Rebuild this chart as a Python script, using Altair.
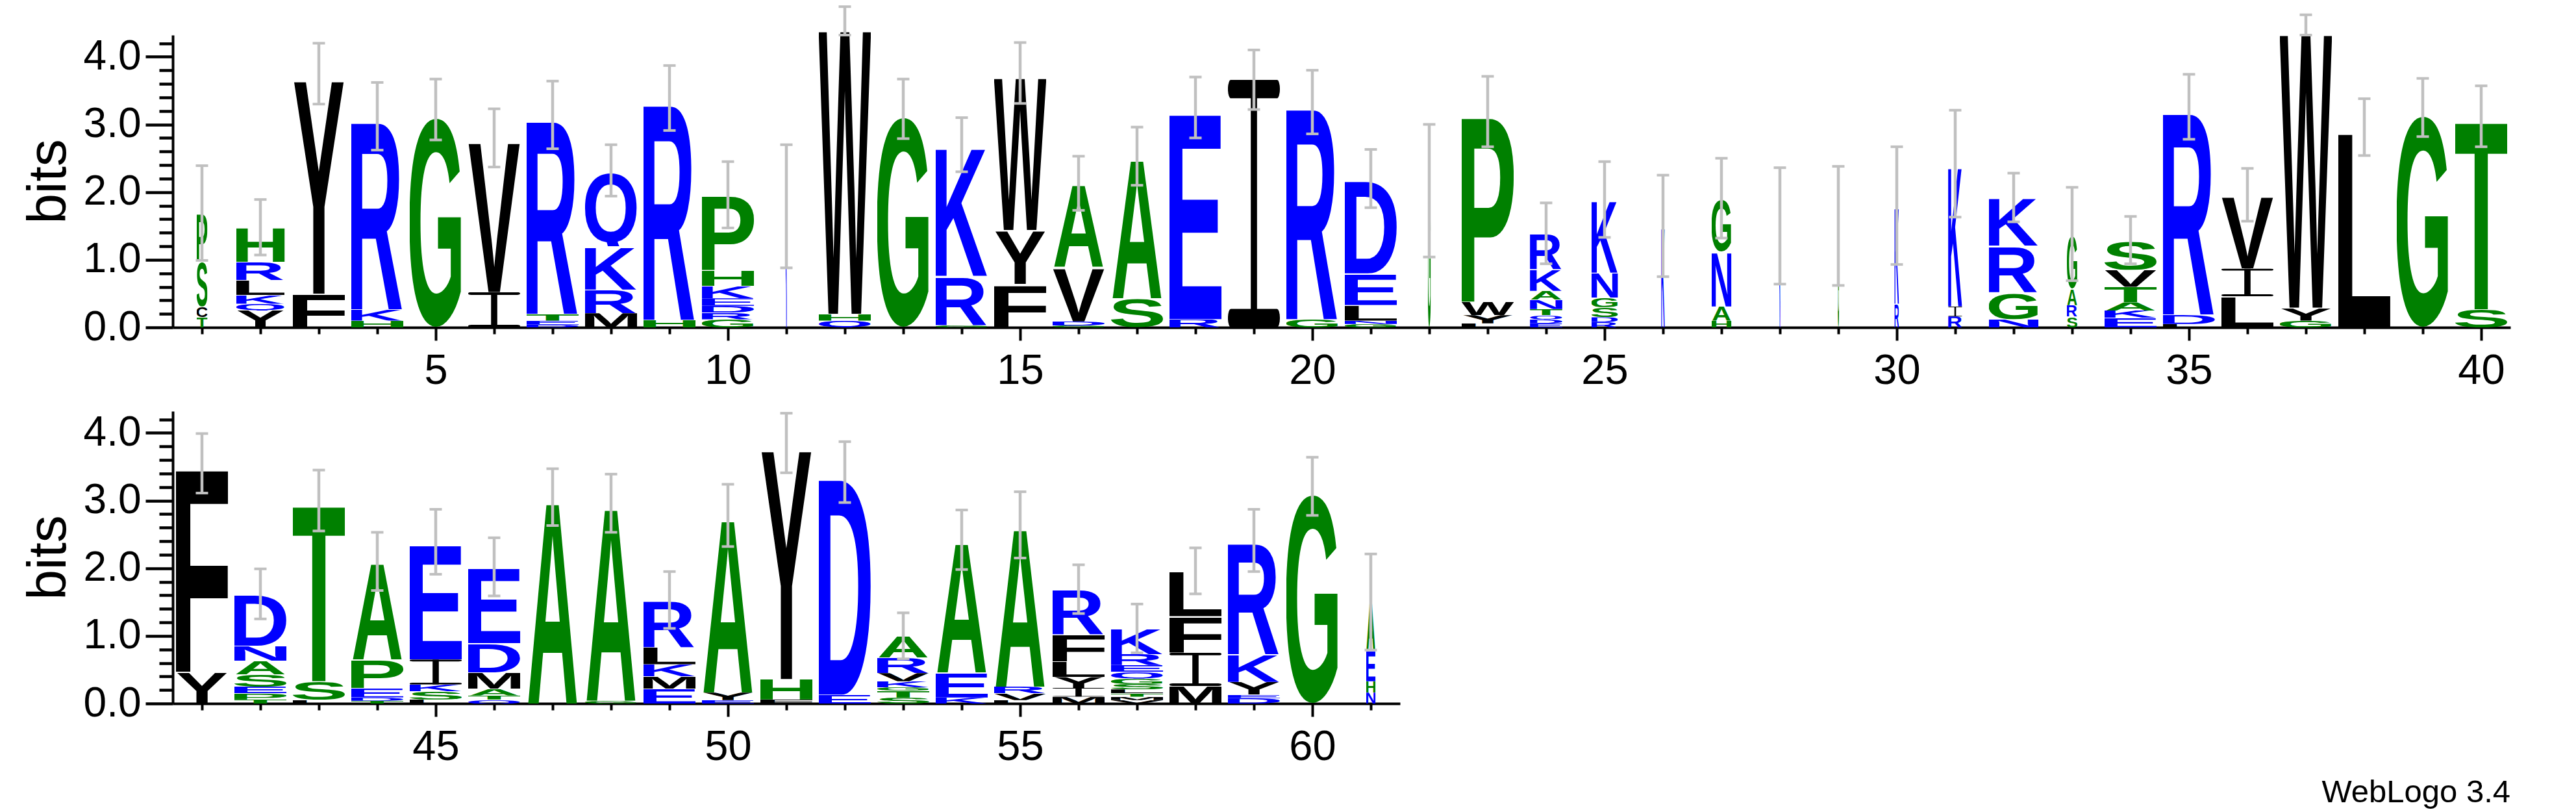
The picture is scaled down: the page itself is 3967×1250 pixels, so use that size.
import altair as alt
import pandas as pd
from urllib.parse import quote

# ---------------- data ----------------
positions = list(range(1, 62))

# letters of each column, bottom -> top
stack_letters = [
    "TCSP", "YQKLRH", "FY", "HKR", "G", "IV", "DETR", "MRKQ", "HR", "GRDEKHP",
    "K", "QHW", "G", "GRK", "FYW", "GDVA", "SA", "RE", "I", "GR",
    "GNLED", "G", "LYWP", "EDQTNAKR", "RDSGNK", "K", "HANG", "K", "G", "RK",
    "RIK", "NGRK", "SRAG", "EKATVS", "LDR", "LIV", "GYW", "L", "G", "ST",
    "YF", "TPESAND", "LST", "TDEPA", "LSKIE", "QTAMDE", "A", "GA", "EMKLR", "EYA",
    "FHY", "ED", "STGKVRA", "KEA", "LVRA", "MIYLFR", "VMTLSGQERK", "MIFL", "DEYKR", "G",
    "NHEA",
]
# information (bits) of each letter, bottom -> top
stack_bits = [
    [.15, .16, .68, .70], [.25, .10, .13, .22, .27, .51], [.50, 3.25], [.10, .17, 2.85], [3.22],
    [.52, 2.28], [.04, .06, .10, 2.94], [.21, .35, .64, 1.12], [.11, 3.28],
    [.12, .10, .10, .11, .18, .23, 1.12],
    [1.79], [.10, .10, 4.33], [3.23], [.03, .73, 1.94], [.64, .80, 2.32],
    [.03, .06, .80, 1.24], [.43, 2.10], [.12, 3.13], [3.66], [.12, 3.21],
    [.05, .05, .23, .47, 1.40], [2.02], [.06, .12, .20, 2.81],
    [.06, .06, .06, .09, .14, .13, .32, .53], [.08, .07, .15, .14, .37, 1.08],
    [1.50], [.10, .21, .81, .79], [1.50], [1.50], [.35, 1.45],
    [.16, .15, 2.11], [.12, .40, .69, .71], [.16, .17, .24, .81],
    [.14, .11, .12, .23, .25, .44], [.05, .14, 3.07], [.46, .41, 1.09],
    [.10, .19, 4.18], [2.96], [3.25], [.27, 2.85],
    [.47, 3.08], [.06, .09, .10, .18, .20, .22, .77], [.05, .28, 2.67],
    [.04, .05, .14, .42, 1.45], [.06, .12, .10, .37, 1.74], [.06, .06, .10, .24, .43, 1.13],
    [3.05], [.04, 2.92], [.22, .18, .18, .25, .70], [.05, .11, 2.62],
    [.06, .30, 3.49], [.13, 3.29], [.09, .10, .05, .09, .12, .23, .32], [.09, .37, 1.96],
    [.05, .10, .10, 2.39], [.10, .13, .16, .23, .40, .67],
    [.05, .05, .05, .06, .08, .08, .10, .10, .16, .38], [.26, .49, .54, .67],
    [.08, .05, .19, .41, 1.68], [3.21],
    [.16, .17, .46, .71],
]
# fraction of sequences with a residue (stack width)
occupancy = [
    .21, .93, 1, 1, 1, 1, 1, 1, 1, 1,
    .03, 1, 1, 1, 1, 1, 1, 1, 1, 1,
    1, .06, 1, .62, .51, .07, .38, .03, .03, .09,
    .27, .95, .20, 1, 1, 1, 1, 1, 1, 1,
    1, 1, 1, 1, 1, 1, 1, 1, 1, 1,
    1, 1, 1, 1, 1, 1, 1, 1, 1, 1,
    .18,
]
# half length of the error bar (bits)
error_half = [
    .70, .41, .45, .50, .45, .43, .50, .38, .48, .49,
    .91, .21, .44, .40, .45, .40, .43, .45, .44, .47,
    .43, .98, .52, .45, .56, .75, .59, .86, .88, .87,
    .79, .36, .69, .35, .48, .39, .15, .42, .43, .45,
    .44, .37, .45, .43, .48, .43, .42, .43, .42, .46,
    .44, .45, .34, .44, .49, .36, .36, .34, .46, .43,
    .71,
]
credit = ["WebLogo 3.4"]
y_ticks = [round(i * 0.2, 1) for i in range(22)]

# ---------------- styles ----------------
GREEN, BLUE, BLACK = "#008000", "#0000ff", "#000000"
COLORS = {}
for c in "GSTAPH":
    COLORS[c] = GREEN
for c in "NQKRDE":
    COLORS[c] = BLUE
for c in "FILMVWYC":
    COLORS[c] = BLACK

# ink insets (% of advance) of Arial-like bold capitals
INSET = {
    "A": (0.3, 0.3), "C": (6, 5.5), "D": (10.5, 5.5), "E": (11.4, 7.5), "F": (12.4, 7.5),
    "G": (5.7, 6.4), "H": (10.1, 10.1), "K": (10.5, 0), "L": (12.4, 4.9), "M": (8.4, 8.4),
    "N": (10.1, 10.1), "P": (11.4, 5.2), "Q": (5.4, 4.5), "R": (10.5, 0.3), "S": (4.8, 5.7),
    "T": (3.6, 3.6), "V": (0, 0), "W": (0.4, 0.4), "Y": (0, 0),
}
ROUND = set("CGQSO")


def glyph_url(letter, color):
    if letter == "I":
        svg = (
            '<svg xmlns="http://www.w3.org/2000/svg" width="100" height="100" '
            'viewBox="0 0 100 100" preserveAspectRatio="none">'
            f'<rect x="0" y="0" width="100" height="7.5" rx="6" fill="{color}"/>'
            f'<rect x="44" y="0" width="12" height="100" fill="{color}"/>'
            f'<rect x="0" y="92.5" width="100" height="7.5" rx="6" fill="{color}"/>'
            "</svg>"
        )
    else:
        l, r = INSET.get(letter, (4, 4))
        top = 73.0 if letter in ROUND else 71.6
        bottom = 1.2 if letter in ROUND else 0.0
        if letter == "Q":
            bottom = 5.0
        w = 100 - l - r
        h = top + bottom
        svg = (
            f'<svg xmlns="http://www.w3.org/2000/svg" width="{w:.1f}" height="{h:.1f}" '
            f'viewBox="{l} {-top} {w:.2f} {h:.2f}" preserveAspectRatio="none">'
            f'<text x="0" y="0" font-family="Liberation Sans" font-weight="bold" '
            f'font-size="100" textLength="100" lengthAdjust="spacingAndGlyphs" '
            f'fill="{color}">{letter}</text></svg>'
        )
    return "data:image/svg+xml;charset=utf-8," + quote(svg)


HALF = 0.445  # half of the letter box width, in columns

letter_rows, err_rows = [], []
for p, letters, bits, occ, e in zip(positions, stack_letters, stack_bits, occupancy, error_half):
    base = 0.0
    for L, b in zip(letters, bits):
        letter_rows.append(dict(pos=p, letter=L, xa=p - occ * HALF, xb=p + occ * HALF,
                                ya=base, yb=base + b, url=glyph_url(L, COLORS[L])))
        base += b
    err_rows.append(dict(pos=p, xa=p, ya=base - e, yb=base + e))

letters_df = pd.DataFrame(letter_rows)
err_df = pd.DataFrame(err_rows)

STEP = 90
FONT = "Liberation Sans"
YMAX = 4.32
ERR_COLOR = "#c0c0c0"

y_axis = alt.Axis(
    values=y_ticks,
    labelExpr="abs(datum.value - round(datum.value)) < 0.01 ? format(datum.value, '.1f') : ''",
    tickSize={"condition": {"test": "abs(datum.value - round(datum.value)) < 0.01", "value": 42}, "value": 21},
    title="bits", titleFont=FONT, titleFontSize=84, titleFontWeight="normal", titleColor="black",
    titlePadding=10, grid=False, domainColor="black", domainWidth=4, tickColor="black",
    tickWidth=4.5, labelFont=FONT, labelFontSize=64, labelColor="black", labelPadding=7,
    labelOverlap=False, labelFlush=False,
)


def make_row(lo, hi, with_credit=False):
    ld = letters_df[(letters_df.pos >= lo) & (letters_df.pos <= hi)]
    ed = err_df[(err_df.pos >= lo) & (err_df.pos <= hi)]
    n = hi - lo + 1
    x_axis = alt.Axis(
        values=list(range(lo, hi + 1)),
        labelExpr="datum.value % 5 === 0 ? datum.value : ''",
        tickSize={"condition": {"test": "datum.value % 5 === 0", "value": 20}, "value": 10},
        title=None, grid=False, domainColor="black", domainWidth=4, tickColor="black",
        tickWidth=4, labelFont=FONT, labelFontSize=65, labelColor="black", labelPadding=15,
        labelOverlap=False, labelFlush=False,
    )
    xs = alt.Scale(domain=[lo - 0.5, hi + 0.5], nice=False, zero=False)
    ys = alt.Scale(domain=[0, YMAX], nice=False, zero=False)
    X = alt.X("xa:Q", scale=xs, axis=x_axis)
    Y = alt.Y("ya:Q", scale=ys, axis=y_axis)

    glyphs = alt.Chart(ld).mark_image(aspect=False).encode(
        x=X, x2="xb:Q", y=Y, y2="yb:Q", url="url:N")
    bars = alt.Chart(ed).mark_rule(color=ERR_COLOR, strokeWidth=4.5).encode(
        x=X, y=Y, y2="yb:Q")
    cap_lo = alt.Chart(ed).mark_tick(orient="horizontal", color=ERR_COLOR, size=19,
                                     thickness=4, opacity=1).encode(x=X, y=Y)
    cap_hi = alt.Chart(ed).mark_tick(orient="horizontal", color=ERR_COLOR, size=19,
                                     thickness=4, opacity=1).encode(
        x=X, y=alt.Y("yb:Q", scale=ys, axis=y_axis))
    layers = [glyphs, bars, cap_lo, cap_hi]
    if with_credit:
        txt = alt.Chart(pd.DataFrame({"label": credit})).mark_text(
            align="right", baseline="alphabetic", font=FONT, fontSize=49, color="black"
        ).encode(x=alt.value(40 * STEP), y=alt.value(602), text="label:N")
        layers.append(txt)
    return alt.layer(*layers).properties(width=n * STEP, height=450)


row1 = make_row(1, 40)
row2 = make_row(41, 61, with_credit=True)

chart = (
    alt.vconcat(row1, row2, spacing=10)
    .properties(padding={"left": 25, "top": 0, "right": 5, "bottom": 5}, background="white")
    .configure_view(stroke=None)
)

chart.save("out.html", embed_options={"renderer": "svg", "actions": False})
